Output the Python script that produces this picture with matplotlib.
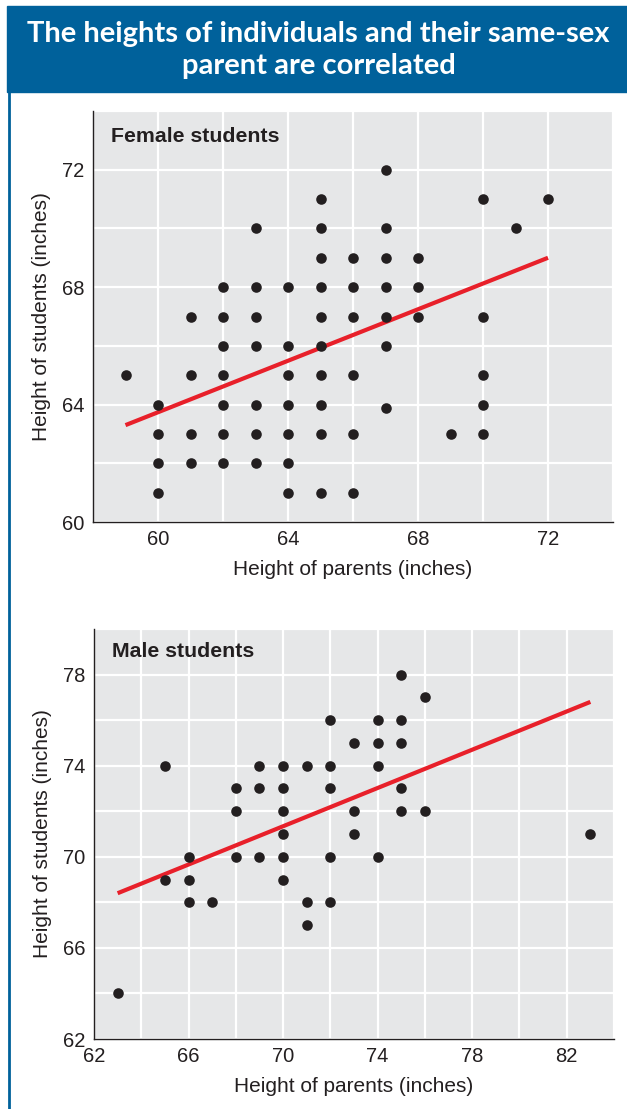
import matplotlib
matplotlib.use("Agg")
import matplotlib.pyplot as plt
from matplotlib.patches import Rectangle
from matplotlib.lines import Line2D
from matplotlib.ticker import MultipleLocator

# Female students: parent height -> student heights
female_parent = (
    [59]
    + [60] * 4
    + [61] * 4
    + [62] * 7
    + [63] * 7
    + [64] * 7
    + [65] * 10
    + [66] * 6
    + [67] * 7
    + [68] * 3
    + [69]
    + [70] * 5
    + [71]
    + [72]
)
female_student = (
    [65]
    + [64, 63, 62, 61]
    + [67, 65, 63, 62]
    + [68, 67, 66, 65, 64, 63, 62]
    + [70, 68, 67, 66, 64, 63, 62]
    + [68, 66, 65, 64, 63, 62, 61]
    + [71, 70, 69, 68, 67, 66, 65, 64, 63, 61]
    + [69, 68, 67, 65, 63, 61]
    + [72, 70, 69, 68, 67, 66, 63.9]
    + [69, 68, 67]
    + [63]
    + [71, 67, 65, 64, 63]
    + [70]
    + [71]
)
female_fit_x = [59, 72]
female_fit_y = [63.3, 69.0]

# Male students
male_parent = (
    [63]
    + [65] * 2
    + [66] * 3
    + [67]
    + [68] * 3
    + [69] * 3
    + [70] * 6
    + [71] * 3
    + [72] * 5
    + [73] * 3
    + [74] * 4
    + [75] * 5
    + [76] * 2
    + [83]
)
male_student = (
    [64]
    + [74, 69]
    + [70, 69, 68]
    + [68]
    + [73, 72, 70]
    + [74, 73, 70]
    + [74, 73, 72, 71, 70, 69]
    + [74, 68, 67]
    + [76, 74, 73, 70, 68]
    + [75, 72, 71]
    + [76, 75, 74, 70]
    + [78, 76, 75, 73, 72]
    + [77, 72]
    + [71]
)
male_fit_x = [63, 83]
male_fit_y = [68.4, 76.8]

BLUE = "#00619b"
INK = "#231f20"
RED = "#e8202a"
PANEL = "#e6e7e8"

plt.rcParams["font.family"] = ["Liberation Sans", "DejaVu Sans"]

fig = plt.figure(figsize=(6.27, 11.09), dpi=100)

# Title banner and left frame line
fig.patches.append(Rectangle((7 / 627, 1 - 92 / 1109), 1, 86 / 1109,
                             transform=fig.transFigure, color=BLUE, zorder=0))
fig.lines.append(Line2D([8.5 / 627, 8.5 / 627], [0, 1 - 92 / 1109],
                        transform=fig.transFigure, color=BLUE, lw=2))
fig.text(318.5 / 627, 1 - 50 / 1109,
         "The heights of individuals and their same-sex\nparent are correlated",
         ha="center", va="center", color="white", fontsize=21,
         fontweight="bold", family="Lato", linespacing=1.3)


def draw_panel(rect, xs, ys, fit_x, fit_y, xlim, ylim, major, title, title_y):
    ax = fig.add_axes(rect)
    ax.set_facecolor(PANEL)
    ax.set_xlim(*xlim)
    ax.set_ylim(*ylim)
    ax.xaxis.set_major_locator(major[0])
    ax.yaxis.set_major_locator(major[1])
    ax.xaxis.set_minor_locator(MultipleLocator(2))
    ax.yaxis.set_minor_locator(MultipleLocator(2))
    ax.grid(which="both", color="white", lw=1.6)
    ax.set_axisbelow(True)
    for side in ["top", "right"]:
        ax.spines[side].set_visible(False)
    for side in ["left", "bottom"]:
        ax.spines[side].set_color(INK)
        ax.spines[side].set_linewidth(1.0)
    ax.tick_params(which="both", length=0, labelsize=14.5, colors=INK, pad=6)
    ax.plot(fit_x, fit_y, color=RED, lw=3, solid_capstyle="butt", zorder=2)
    ax.scatter(xs, ys, s=58, color=INK, zorder=3, linewidths=0)
    ax.set_xlabel("Height of parents (inches)", fontsize=15, color=INK, labelpad=8)
    ax.set_ylabel("Height of students (inches)", fontsize=15, color=INK, labelpad=8)
    ax.text(0.035, title_y, title, transform=ax.transAxes, fontsize=15.3,
            fontweight="bold", color=INK, va="center", ha="left")
    return ax


draw_panel([93 / 627, 1 - 522 / 1109, 520 / 627, 411 / 1109],
           female_parent, female_student, female_fit_x, female_fit_y,
           (58, 74), (60, 74), (MultipleLocator(4), MultipleLocator(4)),
           "Female students", 0.937)

draw_panel([94 / 627, 1 - 1039 / 1109, 520 / 627, 410 / 1109],
           male_parent, male_student, male_fit_x, male_fit_y,
           (62, 84), (62, 80),
           (MultipleLocator(4, offset=2), MultipleLocator(4, offset=2)),
           "Male students", 0.946)

fig.savefig("out.png", dpi=100)
